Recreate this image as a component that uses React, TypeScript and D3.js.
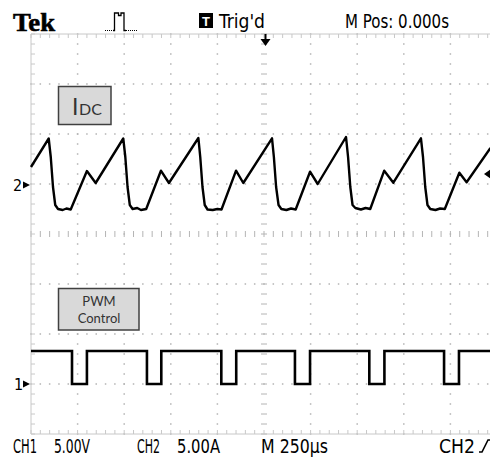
import { curveStepAfter, line, range, scaleLinear } from 'd3'

// CH2 current trace (IDC), time in µs from trigger, amps
const idcTimeUs = [
  -1250, -1155, -1144, -1132, -1120, -1105, -1080, -1060, -1037, -950, -903,
  -755, -744, -732, -720, -705, -680, -660, -632, -553, -510,
  -352, -342, -330, -318, -303, -275, -250, -228, -150, -111,
  43, 53, 65, 78, 93, 120, 145, 170, 247, 288,
  440, 451, 463, 475, 490, 520, 545, 570, 645, 694,
  842, 853, 865, 877, 892, 920, 945, 970, 1048, 1087, 1215,
]
const idcAmps = [
  1.8, 4.65, 2.8, -0.2, -2.0, -2.4, -2.5, -2.35, -2.45, 1.4, 0.2,
  4.65, 2.8, -0.2, -2.0, -2.4, -2.3, -2.5, -2.4, 1.43, 0.2,
  4.7, 2.8, -0.2, -2.0, -2.45, -2.5, -2.4, -2.45, 1.43, 0.2,
  4.67, 2.8, -0.2, -2.0, -2.4, -2.5, -2.35, -2.45, 1.33, 0.1,
  4.8, 2.8, -0.2, -2.0, -2.3, -2.45, -2.3, -2.4, 1.43, 0.23,
  4.67, 2.8, -0.2, -2.0, -2.4, -2.5, -2.35, -2.4, 1.23, 0.27, 3.7,
]

// CH1 PWM control, edge times in µs and the level held after each edge
const pwmTimeUs = [-1250, -1030, -950, -628, -551, -229, -149, 166, 247, 565, 646, 966, 1046, 1250]
const pwmVolts = [3.3, 0, 3.3, 0, 3.3, 0, 3.3, 0, 3.3, 0, 3.3, 0, 3.3, 3.3]

const timePerDiv = 250
const ch1VoltsPerDiv = 5
const ch2AmpsPerDiv = 5
const ch1Position = -3.0
const ch2Position = 0.98
const triggerLevelAmps = 1.1

const narrow = '"Liberation Sans Narrow", "Arial Narrow", "DejaVu Sans Condensed", "Liberation Sans", sans-serif'
const label = 'Lato, "Open Sans", "Liberation Sans", sans-serif'
const gridColor = '#b4b4b4'

export default function App() {
  const width = 490
  const height = 458

  const x = scaleLinear().domain([-5 * timePerDiv, 5 * timePerDiv]).range([31, 497])
  const y = scaleLinear().domain([-4, 4]).range([434, 34])
  const yCh1 = (v: number) => y(ch1Position + v / ch1VoltsPerDiv)
  const yCh2 = (a: number) => y(ch2Position + a / ch2AmpsPerDiv)

  const idcLine = line<number>()
    .x((t) => x(t))
    .y((_, i) => yCh2(idcAmps[i]))
  const pwmLine = line<number>()
    .x((t) => x(t))
    .y((_, i) => yCh1(pwmVolts[i]))
    .curve(curveStepAfter)

  const minorX = range(-5 * timePerDiv, 5 * timePerDiv + 1, timePerDiv / 5)
  const minorY = range(-4, 4.001, 0.2)
  const majorX = range(-4, 5).filter((d) => d !== 0).map((d) => d * timePerDiv)
  const majorY = [-3, -2, -1, 1, 2, 3]

  const x0 = x(-5 * timePerDiv)
  const xc = x(0)
  const yc = y(0)

  return (
    <div style={{ position: 'fixed', left: 0, top: 0 }}>
      <svg width={width} height={height} style={{ display: 'block', background: '#fff' }}>
        {/* dotted graticule */}
        {majorY.map((d) =>
          minorX.map((t) => (
            <rect key={`h${d}-${t}`} x={x(t) - 0.75} y={y(d) - 0.75} width={1.5} height={1.5} fill={gridColor} />
          ))
        )}
        {majorX.map((t) =>
          minorY.map((d) => (
            <rect key={`v${t}-${d}`} x={x(t) - 0.75} y={y(d) - 0.75} width={1.5} height={1.5} fill={gridColor} />
          ))
        )}

        {/* center crosshair ticks */}
        {minorX.map((t) => (
          <line key={`cx${t}`} x1={x(t)} x2={x(t)} y1={yc - 3} y2={yc + 3} stroke={gridColor} strokeWidth={1} />
        ))}
        {minorY.map((d) => (
          <line key={`cy${d}`} x1={xc - 3} x2={xc + 3} y1={y(d)} y2={y(d)} stroke={gridColor} strokeWidth={1} />
        ))}

        {/* frame with ticks */}
        <line x1={x0} x2={width} y1={y(4)} y2={y(4)} stroke="#c8c8c8" />
        <line x1={x0} x2={width} y1={y(-4)} y2={y(-4)} stroke="#c8c8c8" />
        <line x1={x0} x2={x0} y1={y(4)} y2={y(-4)} stroke="#c8c8c8" />
        {minorX.map((t) => (
          <g key={`fx${t}`}>
            <line x1={x(t)} x2={x(t)} y1={y(4)} y2={y(4) + 4} stroke="#c8c8c8" />
            <line x1={x(t)} x2={x(t)} y1={y(-4)} y2={y(-4) - 4} stroke="#c8c8c8" />
          </g>
        ))}
        {minorY.map((d) => (
          <line key={`fy${d}`} x1={x0} x2={x0 + 4} y1={y(d)} y2={y(d)} stroke="#c8c8c8" />
        ))}

        {/* traces */}
        <path d={idcLine(idcTimeUs) ?? ''} fill="none" stroke="#000" strokeWidth={2.4} strokeLinejoin="round" />
        <path d={pwmLine(pwmTimeUs) ?? ''} fill="none" stroke="#000" strokeWidth={2.6} />

        {/* channel ground markers */}
        <text x={13} y={yCh2(0) + 6} fontFamily={narrow} fontSize={16} fill="#000">2</text>
        <path d={`M23,${yCh2(0) - 3.5}L30,${yCh2(0)}L23,${yCh2(0) + 3.5}Z`} fill="#000" />
        <text x={14} y={yCh1(0) + 6} fontFamily={narrow} fontSize={16} fill="#000">1</text>
        <path d={`M23,${yCh1(0) - 3.5}L30,${yCh1(0)}L23,${yCh1(0) + 3.5}Z`} fill="#000" />

        {/* trigger level and position markers */}
        <path d={`M484,${yCh2(triggerLevelAmps)}L491,${yCh2(triggerLevelAmps) - 5}L491,${yCh2(triggerLevelAmps) + 5}Z`} fill="#000" />
        <line x1={xc + 1.5} x2={xc + 1.5} y1={34} y2={41} stroke="#000" strokeWidth={2} />
        <path d={`M${xc - 3.5},39L${xc + 6.5},39L${xc + 1.5},46Z`} fill="#000" />

        {/* header */}
        <text x={13} y={30.5} fontFamily='"Liberation Serif", "DejaVu Serif", serif' fontWeight="bold" fontSize={26} textLength={42} lengthAdjust="spacingAndGlyphs" fill="#000" stroke="#000" strokeWidth={0.6}>Tek</text>
        <path d="M105,30.5H113" stroke="#000" strokeWidth={1} strokeDasharray="1 1" />
        <path d="M113,30.5H114.5V13H118.5V15.5H121V13H124V30.5H126" fill="none" stroke="#000" strokeWidth={1.3} />
        <path d="M126,30.5H138" stroke="#000" strokeWidth={1} strokeDasharray="1 1" />
        <rect x={199} y={13} width={14} height={15} fill="#000" />
        <text x={206} y={25.5} textAnchor="middle" fontFamily='"Liberation Sans", sans-serif' fontWeight="bold" fontSize={13} fill="#fff">T</text>
        <text x={219} y={27.5} fontFamily={narrow} fontSize={20} textLength={46} lengthAdjust="spacingAndGlyphs" fill="#000">Trig'd</text>
        <text x={345} y={27.5} fontFamily={narrow} fontSize={20} textLength={104} lengthAdjust="spacingAndGlyphs" fill="#000">M Pos: 0.000s</text>

        {/* footer */}
        <text x={13} y={453} fontFamily={narrow} fontSize={20} textLength={24} lengthAdjust="spacingAndGlyphs" fill="#000">CH1</text>
        <text x={54} y={453} fontFamily={narrow} fontSize={20} textLength={36} lengthAdjust="spacingAndGlyphs" fill="#000">5.00V</text>
        <text x={137} y={453} fontFamily={narrow} fontSize={20} textLength={23} lengthAdjust="spacingAndGlyphs" fill="#000">CH2</text>
        <text x={177} y={453} fontFamily={narrow} fontSize={20} textLength={43} lengthAdjust="spacingAndGlyphs" fill="#000">5.00A</text>
        <text x={261} y={453} fontFamily={narrow} fontSize={20} textLength={67} lengthAdjust="spacingAndGlyphs" fill="#000">M 250µs</text>
        <text x={439} y={453} fontFamily={narrow} fontSize={20} textLength={36} lengthAdjust="spacingAndGlyphs" fill="#000">CH2</text>
        <path d="M479,452H482L488,440H492" fill="none" stroke="#000" strokeWidth={1.6} />

        {/* annotation boxes */}
        <rect x={58.5} y={86.5} width={52.5} height={38} fill="#d9d9d9" stroke="#404040" strokeWidth={1.5} />
        <text x={72} y={114.5} fontFamily={label} fontSize={23} fill="#333">I</text>
        <text x={79} y={114.5} fontFamily={label} fontSize={16} fill="#333">DC</text>
        <rect x={58.5} y={288.5} width={80.5} height={41.5} fill="#d9d9d9" stroke="#404040" strokeWidth={1.5} />
        <text x={99} y={305.5} textAnchor="middle" fontFamily={label} fontSize={13} fill="#333">PWM</text>
        <text x={99} y={323} textAnchor="middle" fontFamily={label} fontSize={13} fill="#333">Control</text>
      </svg>
    </div>
  )
}
